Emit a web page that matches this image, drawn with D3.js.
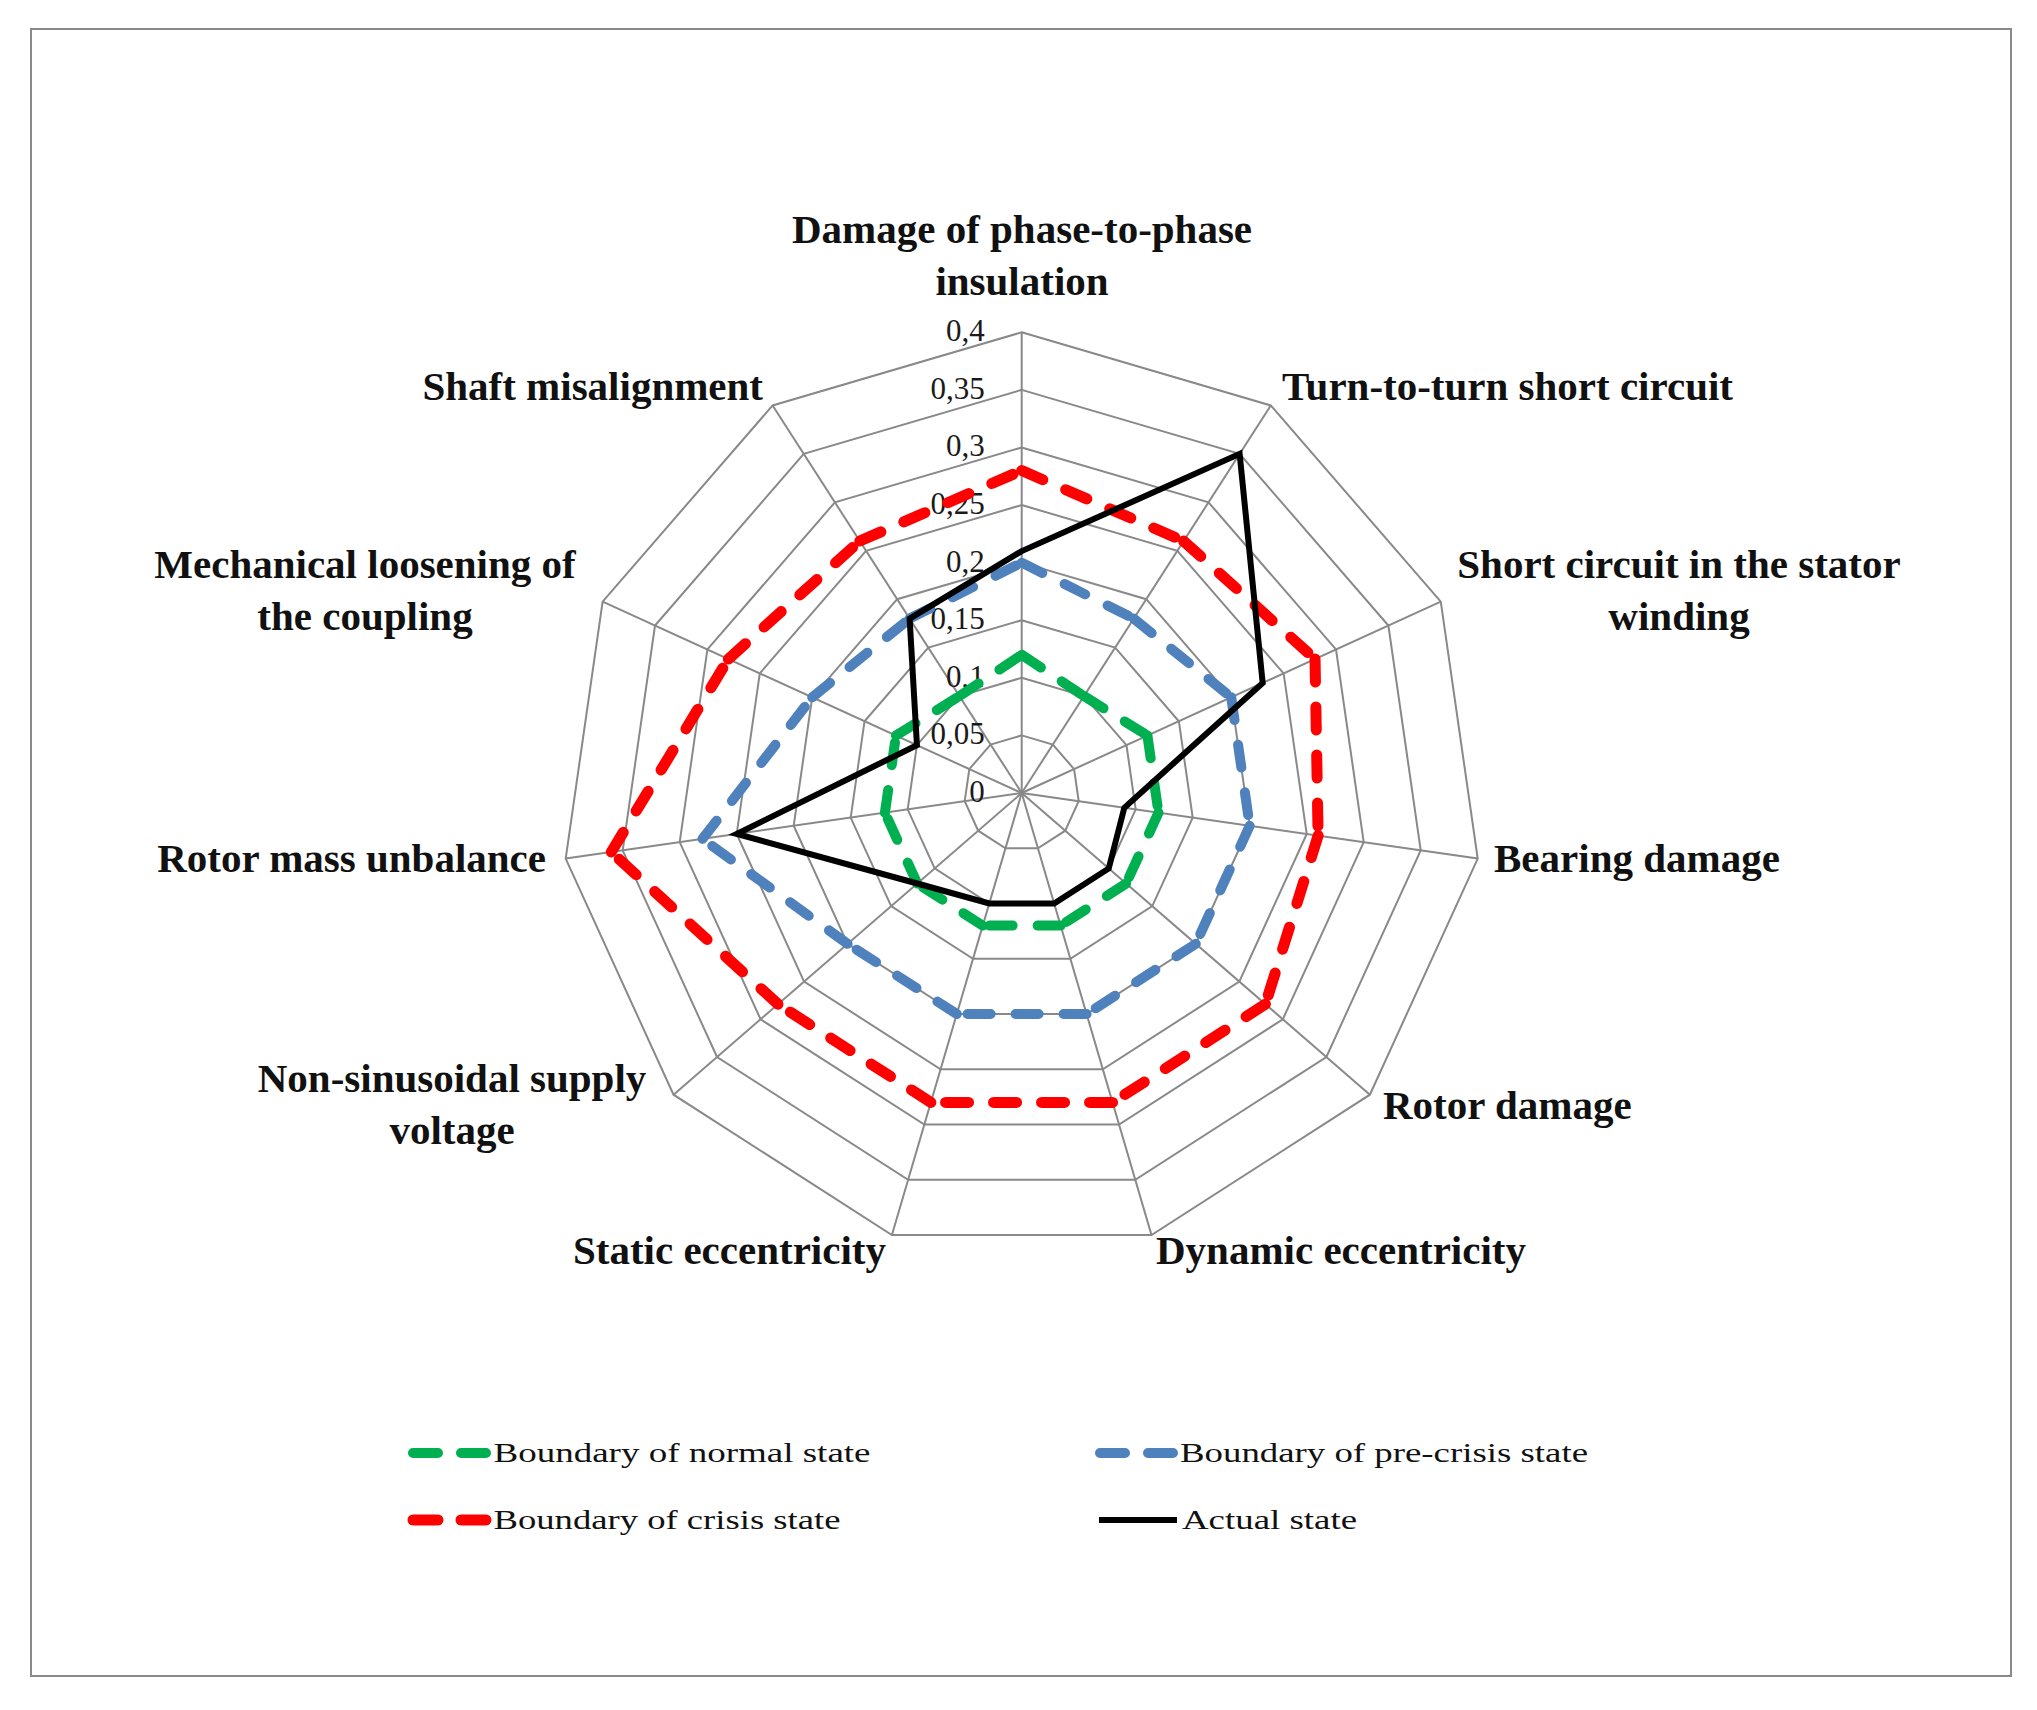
<!DOCTYPE html>
<html>
<head>
<meta charset="utf-8">
<script src="https://cdn.jsdelivr.net/npm/d3@7"></script>
<style>
  html, body { margin: 0; padding: 0; background: #fff; }
  svg { display: block; }
</style>
</head>
<body>
<svg id="chart" width="2037" height="1710"></svg>
<script>
// ---------------- DATA ----------------
const categories = [
  "Damage of phase-to-phase insulation",
  "Turn-to-turn short circuit",
  "Short circuit in the stator winding",
  "Bearing damage",
  "Rotor damage",
  "Dynamic eccentricity",
  "Static eccentricity",
  "Non-sinusoidal supply voltage",
  "Rotor mass unbalance",
  "Mechanical loosening of the coupling",
  "Shaft misalignment"
];
const categoryLines = [
  ["Damage of phase-to-phase", "insulation"],
  ["Turn-to-turn short circuit"],
  ["Short circuit in the stator", "winding"],
  ["Bearing damage"],
  ["Rotor damage"],
  ["Dynamic eccentricity"],
  ["Static eccentricity"],
  ["Non-sinusoidal supply", "voltage"],
  ["Rotor mass unbalance"],
  ["Mechanical loosening of", "the coupling"],
  ["Shaft misalignment"]
];
const normalState    = [0.12, 0.10, 0.12, 0.12, 0.12, 0.12, 0.12, 0.12, 0.12, 0.12, 0.10];
const preCrisisState = [0.20, 0.18, 0.20, 0.20, 0.20, 0.20, 0.20, 0.20, 0.28, 0.20, 0.18];
const crisisState    = [0.28, 0.26, 0.28, 0.26, 0.28, 0.28, 0.28, 0.28, 0.36, 0.28, 0.26];
const actualState    = [0.21, 0.35, 0.23, 0.09, 0.10, 0.10, 0.10, 0.12, 0.25, 0.10, 0.18];
const tickValues = [0, 0.05, 0.1, 0.15, 0.2, 0.25, 0.3, 0.35, 0.4];
const tickLabels = ["0", "0,05", "0,1", "0,15", "0,2", "0,25", "0,3", "0,35", "0,4"];
const seriesNames = [
  "Boundary of normal state",
  "Boundary of pre-crisis state",
  "Boundary of crisis state",
  "Actual state"
];

// ---------------- LAYOUT / STYLE ----------------
const cx = 1021.7, cy = 793;
const R = 460.7;
const FONT = "'Liberation Serif', 'Times New Roman', serif";

const labelLayout = [
  { anchor: "middle", x: 1022, y: 243 },
  { anchor: "start",  x: 1282, y: 400 },
  { anchor: "middle", x: 1679, y: 578 },
  { anchor: "start",  x: 1494, y: 872 },
  { anchor: "start",  x: 1383, y: 1119 },
  { anchor: "start",  x: 1156, y: 1264 },
  { anchor: "end",    x: 886,  y: 1264 },
  { anchor: "middle", x: 452,  y: 1092 },
  { anchor: "end",    x: 546,  y: 872 },
  { anchor: "middle", x: 365,  y: 578 },
  { anchor: "end",    x: 763,  y: 400 }
];
const lineGap = 52;

const seriesStyle = [
  { color: "#00b050", width: 10, dash: "23,25" },
  { color: "#4f81bd", width: 10, dash: "23,25" },
  { color: "#ff0000", width: 11, dash: "23,25" },
  { color: "#000000", width: 6,  dash: null }
];
const legendLayout = [
  { x: 408, y: 1453, textX: 493.5, textLen: 377 },
  { x: 1095, y: 1453, textX: 1180, textLen: 408 },
  { x: 408, y: 1520, textX: 493.5, textLen: 347 },
  { x: 1095, y: 1520, textX: 1182, textLen: 175 }
];

// ---------------- DRAW ----------------
const svg = d3.select("#chart");
svg.append("rect").attr("x", 0).attr("y", 0).attr("width", 2037).attr("height", 1710).attr("fill", "#fff");
svg.append("rect")
  .attr("x", 31).attr("y", 29).attr("width", 1980).attr("height", 1647)
  .attr("fill", "none").attr("stroke", "#8a8a8a").attr("stroke-width", 2);

const n = categories.length;
const rScale = d3.scaleLinear().domain([0, 0.4]).range([0, R]);
const aScale = d3.scaleLinear().domain([0, n]).range([0, 2 * Math.PI]);
const pt = (i, v) => {
  const a = aScale(i % n);
  return [cx + rScale(v) * Math.sin(a), cy - rScale(v) * Math.cos(a)];
};

// grid rings
const grid = svg.append("g").attr("stroke", "#898989").attr("stroke-width", 2).attr("fill", "none");
tickValues.slice(1).forEach(t => {
  const pts = d3.range(n).map(i => pt(i, t));
  grid.append("polygon").attr("points", pts.map(p => p.join(",")).join(" "));
});
// spokes
d3.range(n).forEach(i => {
  const p = pt(i, 0.4);
  grid.append("line").attr("x1", cx).attr("y1", cy).attr("x2", p[0]).attr("y2", p[1]);
});

// tick labels
svg.append("g").selectAll("text").data(tickValues).join("text")
  .attr("x", cx - 37)
  .attr("y", d => cy - rScale(d) + 9)
  .attr("text-anchor", "end")
  .attr("font-family", FONT).attr("font-size", 31).attr("fill", "#1a1a1a")
  .text((d, i) => tickLabels[i]);

// series
const allSeries = [normalState, preCrisisState, crisisState, actualState];
allSeries.forEach((vals, s) => {
  const st = seriesStyle[s];
  const g = svg.append("g");
  if (st.dash) {
    d3.range(n).forEach(i => {
      const p1 = pt(i, vals[i]);
      const p2 = pt(i + 1, vals[(i + 1) % n]);
      g.append("line")
        .attr("x1", p1[0]).attr("y1", p1[1]).attr("x2", p2[0]).attr("y2", p2[1])
        .attr("stroke", st.color).attr("stroke-width", st.width)
        .attr("stroke-dasharray", st.dash).attr("stroke-linecap", "round");
    });
  } else {
    const line = d3.line().curve(d3.curveLinearClosed);
    g.append("path")
      .attr("d", line(vals.map((v, i) => pt(i, v))))
      .attr("fill", "none").attr("stroke", st.color).attr("stroke-width", st.width)
      .attr("stroke-linejoin", "miter");
  }
});

// category labels
categoryLines.forEach((lines, i) => {
  const L = labelLayout[i];
  const t = svg.append("text")
    .attr("text-anchor", L.anchor)
    .attr("font-family", FONT).attr("font-weight", "bold").attr("font-size", 41)
    .attr("fill", "#111");
  lines.forEach((ln, k) => {
    t.append("tspan").attr("x", L.x).attr("y", L.y + k * lineGap).text(ln);
  });
});

// legend
seriesNames.forEach((name, s) => {
  const st = seriesStyle[s];
  const L = legendLayout[s];
  if (st.dash) {
    svg.append("line")
      .attr("x1", L.x + 5).attr("y1", L.y).attr("x2", L.x + 78).attr("y2", L.y)
      .attr("stroke", st.color).attr("stroke-width", st.width)
      .attr("stroke-dasharray", "25,23").attr("stroke-linecap", "round");
  } else {
    svg.append("line")
      .attr("x1", L.x + 4).attr("y1", L.y).attr("x2", L.x + 82).attr("y2", L.y)
      .attr("stroke", st.color).attr("stroke-width", st.width);
  }
  svg.append("text")
    .attr("x", L.textX).attr("y", L.y + 9)
    .attr("font-family", FONT).attr("font-size", 28).attr("fill", "#111")
    .attr("textLength", L.textLen).attr("lengthAdjust", "spacingAndGlyphs")
    .text(name);
});
</script>
</body>
</html>
